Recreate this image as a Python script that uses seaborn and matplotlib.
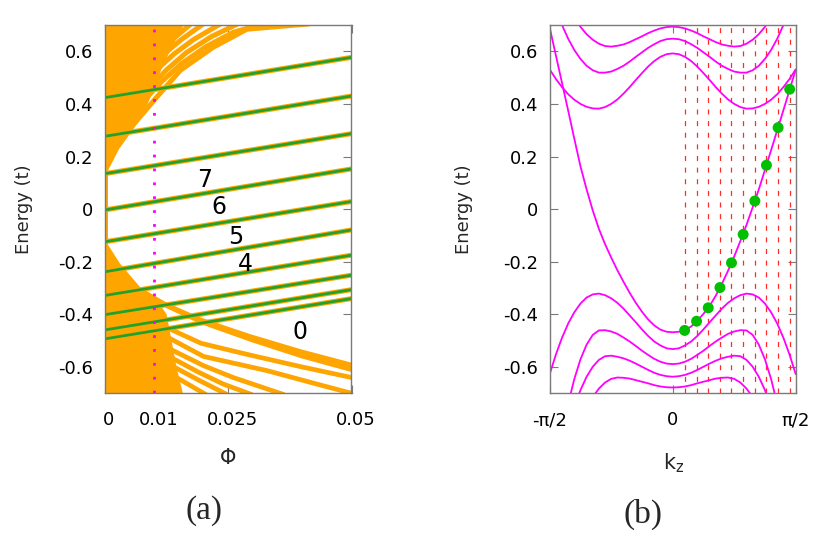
import numpy as np
import pandas as pd
import matplotlib
matplotlib.use('Agg')
import matplotlib.pyplot as plt
import seaborn as sns
from matplotlib.transforms import ScaledTranslation

sns.set_theme(style='ticks')
plt.rcParams['font.family'] = ['DejaVu Sans']
plt.rcParams['mathtext.default'] = 'regular'

# ---------------- panel (a) data ----------------
phi_ticks = [0, 0.01, 0.025, 0.05]
phi_tick_labels = ['0', '0.01', '0.025', '0.05']
energy_ticks = [-0.6, -0.4, -0.2, 0.0, 0.2, 0.4, 0.6]
energy_tick_labels = ['-0.6', '-0.4', '-0.2', '0', '0.2', '0.4', '0.6']

# green Landau-level lines: energy at phi = 0 and phi = 0.05
ll_phi = [0.0, 0.05]
ll_E_start = [0.424, 0.277, 0.135, -0.003, -0.124, -0.238, -0.328, -0.401, -0.459, -0.493]
ll_E_end = [0.577, 0.430, 0.287, 0.153, 0.029, -0.079, -0.175, -0.251, -0.306, -0.340]

level_labels = ['7', '6', '5', '4', '0']
level_label_phi = [0.0203, 0.0230, 0.0265, 0.0284, 0.0396]
level_label_E = [0.112, 0.010, -0.107, -0.209, -0.468]
phi_marker = 0.01

# orange spectrum: dense cores
strip_phi = [0.0, 0.0007, 0.0007, 0.0]
strip_E = [-0.7, -0.7, 0.7, 0.7]
upper_core_phi = [0.0, 0.0024, 0.0058, 0.0082, 0.0098, 0.0114, 0.0134, 0.0160, 0.0]
upper_core_E = [0.139, 0.227, 0.316, 0.380, 0.450, 0.530, 0.610, 0.700, 0.700]
lower_core_phi = [0.0, 0.0030, 0.0071, 0.0105, 0.0125, 0.0135, 0.0145, 0.0158, 0.0]
lower_core_E = [-0.117, -0.206, -0.296, -0.345, -0.40, -0.50, -0.60, -0.70, -0.70]

# orange spectrum: upper fan bands
upper_bands = {
    'UB1': ([0.0, 0.0024, 0.0058, 0.0105, 0.0153, 0.022, 0.0288, 0.0413],
            [0.145, 0.233, 0.322, 0.426, 0.528, 0.616, 0.684, 0.704]),
    'UB2': ([0.008, 0.0115, 0.0155, 0.0205, 0.026, 0.032],
            [0.415, 0.485, 0.553, 0.618, 0.672, 0.705]),
    'UB3': ([0.0095, 0.0125, 0.0165, 0.0215, 0.027],
            [0.470, 0.530, 0.595, 0.655, 0.705]),
    'UB4': ([0.0105, 0.0140, 0.0180, 0.0235],
            [0.530, 0.590, 0.645, 0.705]),
    'UB5': ([0.0120, 0.0155, 0.0200],
            [0.590, 0.645, 0.705]),
    'UB6': ([0.0140, 0.0175],
            [0.650, 0.705]),
}
# lower fan: thick top band (edges) + thinner bands
lb_top_phi = [0.0071, 0.0124, 0.0193, 0.0295, 0.0397, 0.05]
lb_top_hi = [-0.296, -0.353, -0.41, -0.474, -0.531, -0.582]
lb_top_lo = [-0.315, -0.375, -0.435, -0.503, -0.565, -0.618]
lower_bands = {
    'LB2': ([0.0125, 0.0195, 0.0295, 0.04, 0.05], [-0.45, -0.51, -0.555, -0.60, -0.64]),
    'LB3': ([0.013, 0.02, 0.0329, 0.042, 0.05], [-0.49, -0.56, -0.614, -0.66, -0.70]),
    'LB4': ([0.013, 0.02, 0.026, 0.0363], [-0.53, -0.595, -0.64, -0.705]),
    'LB5': ([0.0135, 0.019, 0.024, 0.0298], [-0.565, -0.62, -0.665, -0.705]),
    'LB6': ([0.014, 0.019, 0.0248], [-0.60, -0.65, -0.705]),
    'LB7': ([0.0145, 0.0205], [-0.64, -0.705]),
}

# ---------------- panel (b) data ----------------
kz = [-1.0, -0.95, -0.9, -0.85, -0.8, -0.75, -0.7, -0.65, -0.6, -0.55, -0.5,
      -0.45, -0.4, -0.35, -0.3, -0.25, -0.2, -0.15, -0.1, -0.05, 0.0,
      0.05, 0.1, 0.15, 0.2, 0.25, 0.3, 0.35, 0.4, 0.45, 0.5,
      0.55, 0.6, 0.65, 0.7, 0.75, 0.8, 0.85, 0.9, 0.95, 1.0]   # in units of pi/2
kz_ticks = [-1.0, 0.0, 1.0]
kz_tick_labels = ['-\u03c0/2', '0', '\u03c0/2']
band_U1 = [0.93, 0.87, 0.82, 0.77, 0.728, 0.693, 0.665, 0.644, 0.629, 0.620, 0.618,
           0.621, 0.626, 0.635, 0.646, 0.657, 0.669, 0.679, 0.687, 0.692, 0.694,
           0.692, 0.687, 0.679, 0.669, 0.657, 0.646, 0.635, 0.626, 0.621, 0.618,
           0.620, 0.629, 0.644, 0.665, 0.693, 0.728, 0.77, 0.82, 0.87, 0.93]
band_U2 = [0.829, 0.760, 0.700, 0.648, 0.605, 0.571, 0.545, 0.528, 0.519, 0.519, 0.523,
           0.533, 0.545, 0.561, 0.579, 0.596, 0.613, 0.627, 0.639, 0.646, 0.648,
           0.646, 0.639, 0.627, 0.613, 0.596, 0.579, 0.561, 0.545, 0.533, 0.523,
           0.519, 0.519, 0.528, 0.545, 0.571, 0.605, 0.648, 0.700, 0.760, 0.829]
band_U3 = [0.531, 0.495, 0.464, 0.437, 0.416, 0.400, 0.389, 0.383, 0.382, 0.388, 0.400,
           0.417, 0.439, 0.464, 0.491, 0.517, 0.542, 0.563, 0.579, 0.589, 0.592,
           0.589, 0.579, 0.563, 0.542, 0.517, 0.491, 0.464, 0.439, 0.417, 0.400,
           0.388, 0.382, 0.383, 0.389, 0.400, 0.416, 0.437, 0.464, 0.495, 0.531]
band_D = [0.690, 0.585, 0.480, 0.375, 0.268, 0.163, 0.075, -0.005, -0.075, -0.133, -0.184,
          -0.232, -0.276, -0.318, -0.356, -0.390, -0.419, -0.442, -0.458, -0.466, -0.468,
          -0.466, -0.460, -0.446, -0.424, -0.398, -0.368, -0.329, -0.284, -0.234, -0.180,
          -0.121, -0.060, 0.007, 0.075, 0.149, 0.224, 0.300, 0.376, 0.453, 0.530]
band_L1 = [-0.627, -0.553, -0.489, -0.435, -0.392, -0.359, -0.336, -0.324, -0.321, -0.327, -0.339,
           -0.356, -0.378, -0.404, -0.430, -0.457, -0.482, -0.503, -0.518, -0.529, -0.532,
           -0.529, -0.518, -0.503, -0.482, -0.457, -0.430, -0.404, -0.378, -0.356, -0.339,
           -0.327, -0.321, -0.324, -0.336, -0.359, -0.392, -0.435, -0.489, -0.553, -0.627]
band_L2 = [-1.1, -0.99, -0.854, -0.740, -0.646, -0.571, -0.515, -0.478, -0.461, -0.460, -0.465,
           -0.474, -0.488, -0.503, -0.520, -0.538, -0.554, -0.569, -0.580, -0.587, -0.589,
           -0.587, -0.580, -0.569, -0.554, -0.538, -0.520, -0.503, -0.488, -0.474, -0.465,
           -0.460, -0.461, -0.478, -0.515, -0.571, -0.646, -0.740, -0.854, -0.99, -1.1]
band_L3 = [-1.0, -1.0, -0.915, -0.827, -0.751, -0.688, -0.637, -0.599, -0.573, -0.559, -0.557,
           -0.561, -0.567, -0.576, -0.587, -0.599, -0.611, -0.622, -0.630, -0.635, -0.637,
           -0.635, -0.630, -0.622, -0.611, -0.599, -0.587, -0.576, -0.567, -0.561, -0.557,
           -0.559, -0.573, -0.599, -0.637, -0.688, -0.751, -0.827, -0.915, -1.0, -1.0]
band_L4 = [-1.0, -1.0, -1.0, -0.936, -0.867, -0.807, -0.756, -0.714, -0.682, -0.659, -0.645,
           -0.640, -0.641, -0.644, -0.650, -0.656, -0.662, -0.669, -0.674, -0.677, -0.678,
           -0.677, -0.674, -0.669, -0.662, -0.656, -0.650, -0.644, -0.641, -0.640, -0.645,
           -0.659, -0.682, -0.714, -0.756, -0.807, -0.867, -0.936, -1.0, -1.0, -1.0]
kz_slices = [0.097, 0.194, 0.289, 0.384, 0.478, 0.573, 0.668, 0.762, 0.857, 0.951]
E_slices = [-0.461, -0.426, -0.375, -0.298, -0.204, -0.096, 0.031, 0.167, 0.310, 0.456]

ORANGE = '#ffa500'
GREEN_LINE = '#22a22a'
GREEN_DOT = '#00c000'
MAGENTA = '#ff00ff'
RED = '#ff2a2a'
FRAME = '#7a7a7a'

W, H = 831, 547
fig = plt.figure(figsize=(W / 100, H / 100), dpi=100)
axa = fig.add_axes([105 / W, 1 - 393.3 / H, 246.5 / W, 368.3 / H])
axb = fig.add_axes([549.7 / W, 1 - 393.3 / H, 246 / W, 368.3 / H])


def long_df(curves):
    rows = []
    for name, (xs, ys) in curves.items():
        for x, y in zip(xs, ys):
            rows.append({'x': x, 'y': y, 'curve': name})
    return pd.DataFrame(rows)


# ---------- panel (a) ----------
axa.fill(strip_phi, strip_E, color=ORANGE, lw=0, zorder=1)
axa.fill(upper_core_phi, upper_core_E, color=ORANGE, lw=0, zorder=1)
axa.fill(lower_core_phi, lower_core_E, color=ORANGE, lw=0, zorder=1)
axa.fill_between(lb_top_phi, lb_top_lo, lb_top_hi, color=ORANGE, lw=0, zorder=1)

sns.lineplot(data=long_df(upper_bands), x='x', y='y', units='curve', estimator=None,
             sort=False, color=ORANGE, lw=3.6, ax=axa, zorder=2)
sns.lineplot(data=long_df(lower_bands), x='x', y='y', units='curve', estimator=None,
             sort=False, color=ORANGE, lw=3.4, ax=axa, zorder=2)

ll_curves = {f'L{i}': (ll_phi, [s, e]) for i, (s, e) in enumerate(zip(ll_E_start, ll_E_end))}
df_ll = long_df(ll_curves)
sns.lineplot(data=df_ll, x='x', y='y', units='curve', estimator=None, sort=False,
             color=ORANGE, lw=3.6, ax=axa, zorder=3)
sns.lineplot(data=df_ll, x='x', y='y', units='curve', estimator=None, sort=False,
             color=GREEN_LINE, lw=2.0, ax=axa, zorder=4)

axa.axvline(phi_marker, color=MAGENTA, lw=2.0, linestyle=(0, (1, 4)), zorder=5)

for lab, px, py in zip(level_labels, level_label_phi, level_label_E):
    axa.text(px, py, lab, fontsize=17, ha='center', va='center', color='black', zorder=6)

axa.set_xlim(0, 0.05)
axa.set_ylim(-0.7, 0.7)
axa.set_xticks(phi_ticks)
axa.set_xticklabels(phi_tick_labels)
axa.set_xlabel('\u03a6', fontsize=15)
axa.xaxis.set_label_coords(0.5, -0.148)

# ---------- panel (b) ----------
axb.vlines(kz_slices, -0.7, 0.7, colors=RED, lw=0.9, linestyles=[(0, (4, 5.3))], zorder=1)
bands = {'U1': (kz, band_U1), 'U2': (kz, band_U2), 'U3': (kz, band_U3), 'D': (kz, band_D),
         'L1': (kz, band_L1), 'L2': (kz, band_L2), 'L3': (kz, band_L3), 'L4': (kz, band_L4)}
sns.lineplot(data=long_df(bands), x='x', y='y', units='curve', estimator=None, sort=False,
             color=MAGENTA, lw=1.3, ax=axb, zorder=2)
sns.scatterplot(x=kz_slices, y=E_slices, s=62, color=GREEN_DOT, edgecolor='none',
                ax=axb, zorder=3)
axb.set_xlim(-1, 1)
axb.set_ylim(-0.7, 0.7)
axb.set_xticks(kz_ticks)
axb.set_xticklabels(kz_tick_labels)
axb.set_xlabel('k$_z$', fontsize=15)
axb.xaxis.set_label_coords(0.502, -0.159)

for ax, ylx in ((axa, -0.291), (axb, -0.311)):
    ax.set_yticks(energy_ticks)
    ax.set_yticklabels(energy_tick_labels)
    ax.set_ylabel('Energy (t)', fontsize=13)
    ax.yaxis.set_label_coords(ylx, 0.5)
    ax.tick_params(axis='both', direction='in', length=6, width=0.8, color=FRAME,
                   labelsize=13, labelcolor='black', top=True, right=True)
    ax.tick_params(axis='x', pad=13)
    ax.tick_params(axis='y', pad=8.5)
    for sp in ax.spines.values():
        sp.set_visible(True)
        sp.set_color(FRAME)
        sp.set_linewidth(1.0)
        sp.set_zorder(10)

# small rightward shift of the (a) x tick labels, as in the reference
off = ScaledTranslation(4 / 100, 0, fig.dpi_scale_trans)
for t in axa.xaxis.get_majorticklabels():
    t.set_transform(t.get_transform() + off)

fig.text(204 / W, 1 - 511 / H, '(a)', fontsize=24, family='Liberation Serif',
         ha='center', va='center')
fig.text(643 / W, 1 - 514 / H, '(b)', fontsize=24, family='Liberation Serif',
         ha='center', va='center')

fig.savefig('out.png', dpi=100)
